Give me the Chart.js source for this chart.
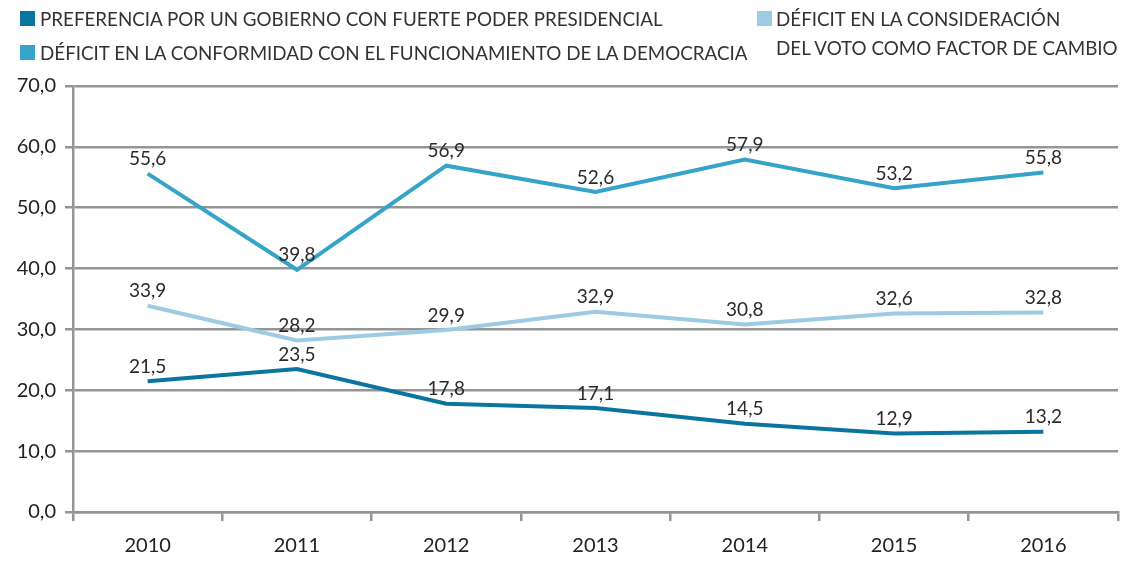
<!DOCTYPE html>
<html>
<head>
<meta charset="utf-8">
<script src="https://cdn.jsdelivr.net/npm/chart.js@4/dist/chart.umd.min.js"></script>
<style>
  html, body { margin: 0; padding: 0; background: #fff; }
  #wrap { position: relative; width: 1122px; height: 568px; }
  canvas { position: absolute; left: 0; top: 0; }
  .leg { position: absolute; font-family: Lato, "Open Sans", sans-serif; font-size: 18.8px; color: #333; line-height: 29px; white-space: nowrap; }
  .sw { position: absolute; width: 15px; height: 15px; }
</style>
</head>
<body>
<div id="wrap">
  <canvas id="c" width="1122" height="568"></canvas>
  <div id="legend"></div>
</div>
<script>
const categories = ['2010', '2011', '2012', '2013', '2014', '2015', '2016'];
const seriesNames = [
  'PREFERENCIA POR UN GOBIERNO CON FUERTE PODER PRESIDENCIAL',
  'DÉFICIT EN LA CONFORMIDAD CON EL FUNCIONAMIENTO DE LA DEMOCRACIA',
  'DÉFICIT EN LA CONSIDERACIÓN\nDEL VOTO COMO FACTOR DE CAMBIO'
];
const preferencia = [21.5, 23.5, 17.8, 17.1, 14.5, 12.9, 13.2];
const conformidad = [55.6, 39.8, 56.9, 52.6, 57.9, 53.2, 55.8];
const voto = [33.9, 28.2, 29.9, 32.9, 30.8, 32.6, 32.8];
const yTicks = [0, 10, 20, 30, 40, 50, 60, 70];

const colors = ['#0a76a0', '#36a3c9', '#9dcbe3'];
const fmt = v => v.toFixed(1).replace('.', ',');

// HTML legend
const legend = document.getElementById('legend');
const legPos = [
  { sx: 20, sy: 11, tx: 40, ty: 4 },
  { sx: 20, sy: 45, tx: 40, ty: 38 },
  { sx: 757, sy: 11, tx: 776, ty: 4 }
];
seriesNames.forEach((name, i) => {
  const p = legPos[i];
  const sw = document.createElement('div');
  sw.className = 'sw';
  sw.style.left = p.sx + 'px'; sw.style.top = p.sy + 'px'; sw.style.background = colors[i];
  legend.appendChild(sw);
  const t = document.createElement('div');
  t.className = 'leg';
  t.style.left = p.tx + 'px'; t.style.top = p.ty + 'px';
  t.innerHTML = name.split('\n').join('<br>');
  legend.appendChild(t);
});

const labelPlugin = {
  id: 'valueLabels',
  afterDatasetsDraw(chart) {
    const ctx = chart.ctx;
    ctx.save();
    ctx.font = '19px Lato, "Open Sans", sans-serif';
    ctx.fillStyle = '#2a2a2a';
    ctx.textAlign = 'center';
    ctx.textBaseline = 'bottom';
    chart.data.datasets.forEach((ds, di) => {
      const meta = chart.getDatasetMeta(di);
      meta.data.forEach((pt, i) => {
        ctx.fillText(fmt(ds.data[i]), pt.x, pt.y - 5);
      });
    });
    ctx.restore();
  }
};

const gridColor = '#959595';

new Chart(document.getElementById('c'), {
  type: 'line',
  data: {
    labels: categories,
    datasets: [
      { label: seriesNames[0], data: preferencia, borderColor: colors[0], backgroundColor: colors[0] },
      { label: seriesNames[1], data: conformidad, borderColor: colors[1], backgroundColor: colors[1] },
      { label: seriesNames[2], data: voto, borderColor: colors[2], backgroundColor: colors[2] }
    ]
  },
  options: {
    responsive: false,
    animation: false,
    devicePixelRatio: 1,
    layout: { padding: { top: 86, right: 4, left: 0, bottom: 0 } },
    elements: {
      line: { borderWidth: 4, tension: 0, borderCapStyle: 'butt' },
      point: { radius: 0, hoverRadius: 0 }
    },
    plugins: { legend: { display: false }, tooltip: { enabled: false } },
    scales: {
      x: {
        offset: true,
        grid: { offset: true, drawOnChartArea: false, drawTicks: true, tickLength: 9, color: gridColor, lineWidth: 2.5 },
        border: { display: true, color: gridColor, width: 2.5 },
        ticks: { color: '#222', font: { family: 'Lato, "Open Sans", sans-serif', size: 20 }, padding: 13 },
        afterFit(scale) { scale.height = 56; }
      },
      y: {
        min: 0, max: 70,
        afterBuildTicks(scale) { scale.ticks = yTicks.map(v => ({ value: v })); },
        grid: { color: gridColor, lineWidth: 2.5, tickLength: 8 },
        border: { display: true, color: gridColor, width: 2.5 },
        ticks: { color: '#222', font: { family: 'Lato, "Open Sans", sans-serif', size: 20 }, padding: 9, callback: v => fmt(v) },
        afterFit(scale) { scale.width = 73; }
      }
    }
  },
  plugins: [labelPlugin]
});
</script>
</body>
</html>
